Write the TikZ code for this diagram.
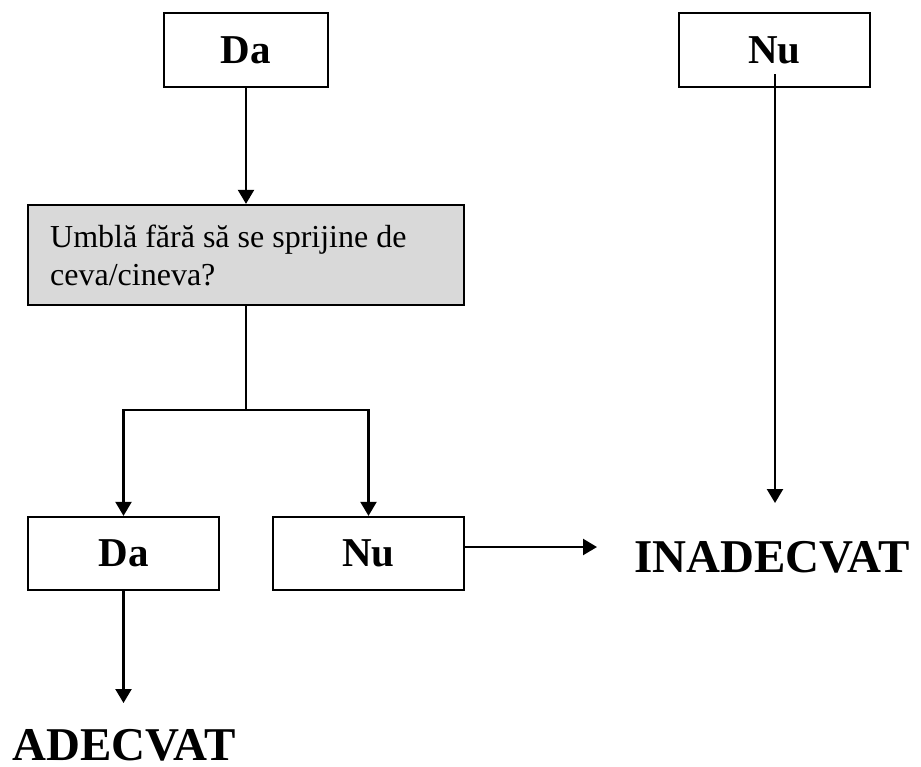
\documentclass[tikz,border=0pt]{standalone}
\usepackage{fontspec}
\setmainfont{Liberation Serif}
\usetikzlibrary{arrows.meta}
\tikzset{
  box/.style={draw, line width=2.3pt, inner sep=0pt, font=\fontsize{41}{46}\selectfont\bfseries},
  qbox/.style={draw, line width=2.3pt, fill=black!15, inner sep=0pt},
  result/.style={inner sep=0pt, text depth=0pt, font=\fontsize{47}{54}\selectfont\bfseries},
  arr/.style={line width=2.3pt, -{Triangle[length=14pt,width=16pt]}},
  ln/.style={line width=2.3pt}
}
\begin{document}
\begin{tikzpicture}[x=1pt,y=-1pt]
\useasboundingbox (0,0) rectangle (921,766);
\node[box, minimum width=164pt, minimum height=74pt] (daTop) at (246,50) {Da};
\node[box, minimum width=191pt, minimum height=74pt] (nuTop) at (774.5,50) {Nu};
\node[qbox, minimum width=436pt, minimum height=100pt] (q) at (246,255) {};
\node[anchor=base west, inner sep=0pt, font=\fontsize{32}{38}\selectfont, align=left] (qt) at (50,285) {Umblă fără să se sprijine de\\ceva/cineva?};
\node[box, minimum width=191pt, minimum height=73pt] (daB) at (123.5,553.5) {Da};
\node[box, minimum width=191pt, minimum height=73pt] (nuB) at (368.5,553.5) {Nu};
\node[result, anchor=base] (inad) at (772,572) {INADECVAT};
\node[result, anchor=base] (adec) at (124,760) {ADECVAT};
\coordinate (split) at (246,410);
\coordinate (nuStart) at (775,74);
\coordinate (nuEnd) at (775,503);
\coordinate (inEnd) at (597,547);
\coordinate (adEnd) at (123.5,703);
\draw[arr] (daTop.south) -- (q.north);
\draw[ln] (q.south) -- (split);
\draw[ln, {Triangle[length=14pt,width=16pt]}-{Triangle[length=14pt,width=16pt]}] (daB.north) -- (daB.north |- split) -- (nuB.north |- split) -- (nuB.north);
\draw[arr] (nuStart) -- (nuEnd);
\draw[arr] (nuB.east |- inEnd) -- (inEnd);
\draw[arr] (daB.south) -- (adEnd);
\end{tikzpicture}
\end{document}
